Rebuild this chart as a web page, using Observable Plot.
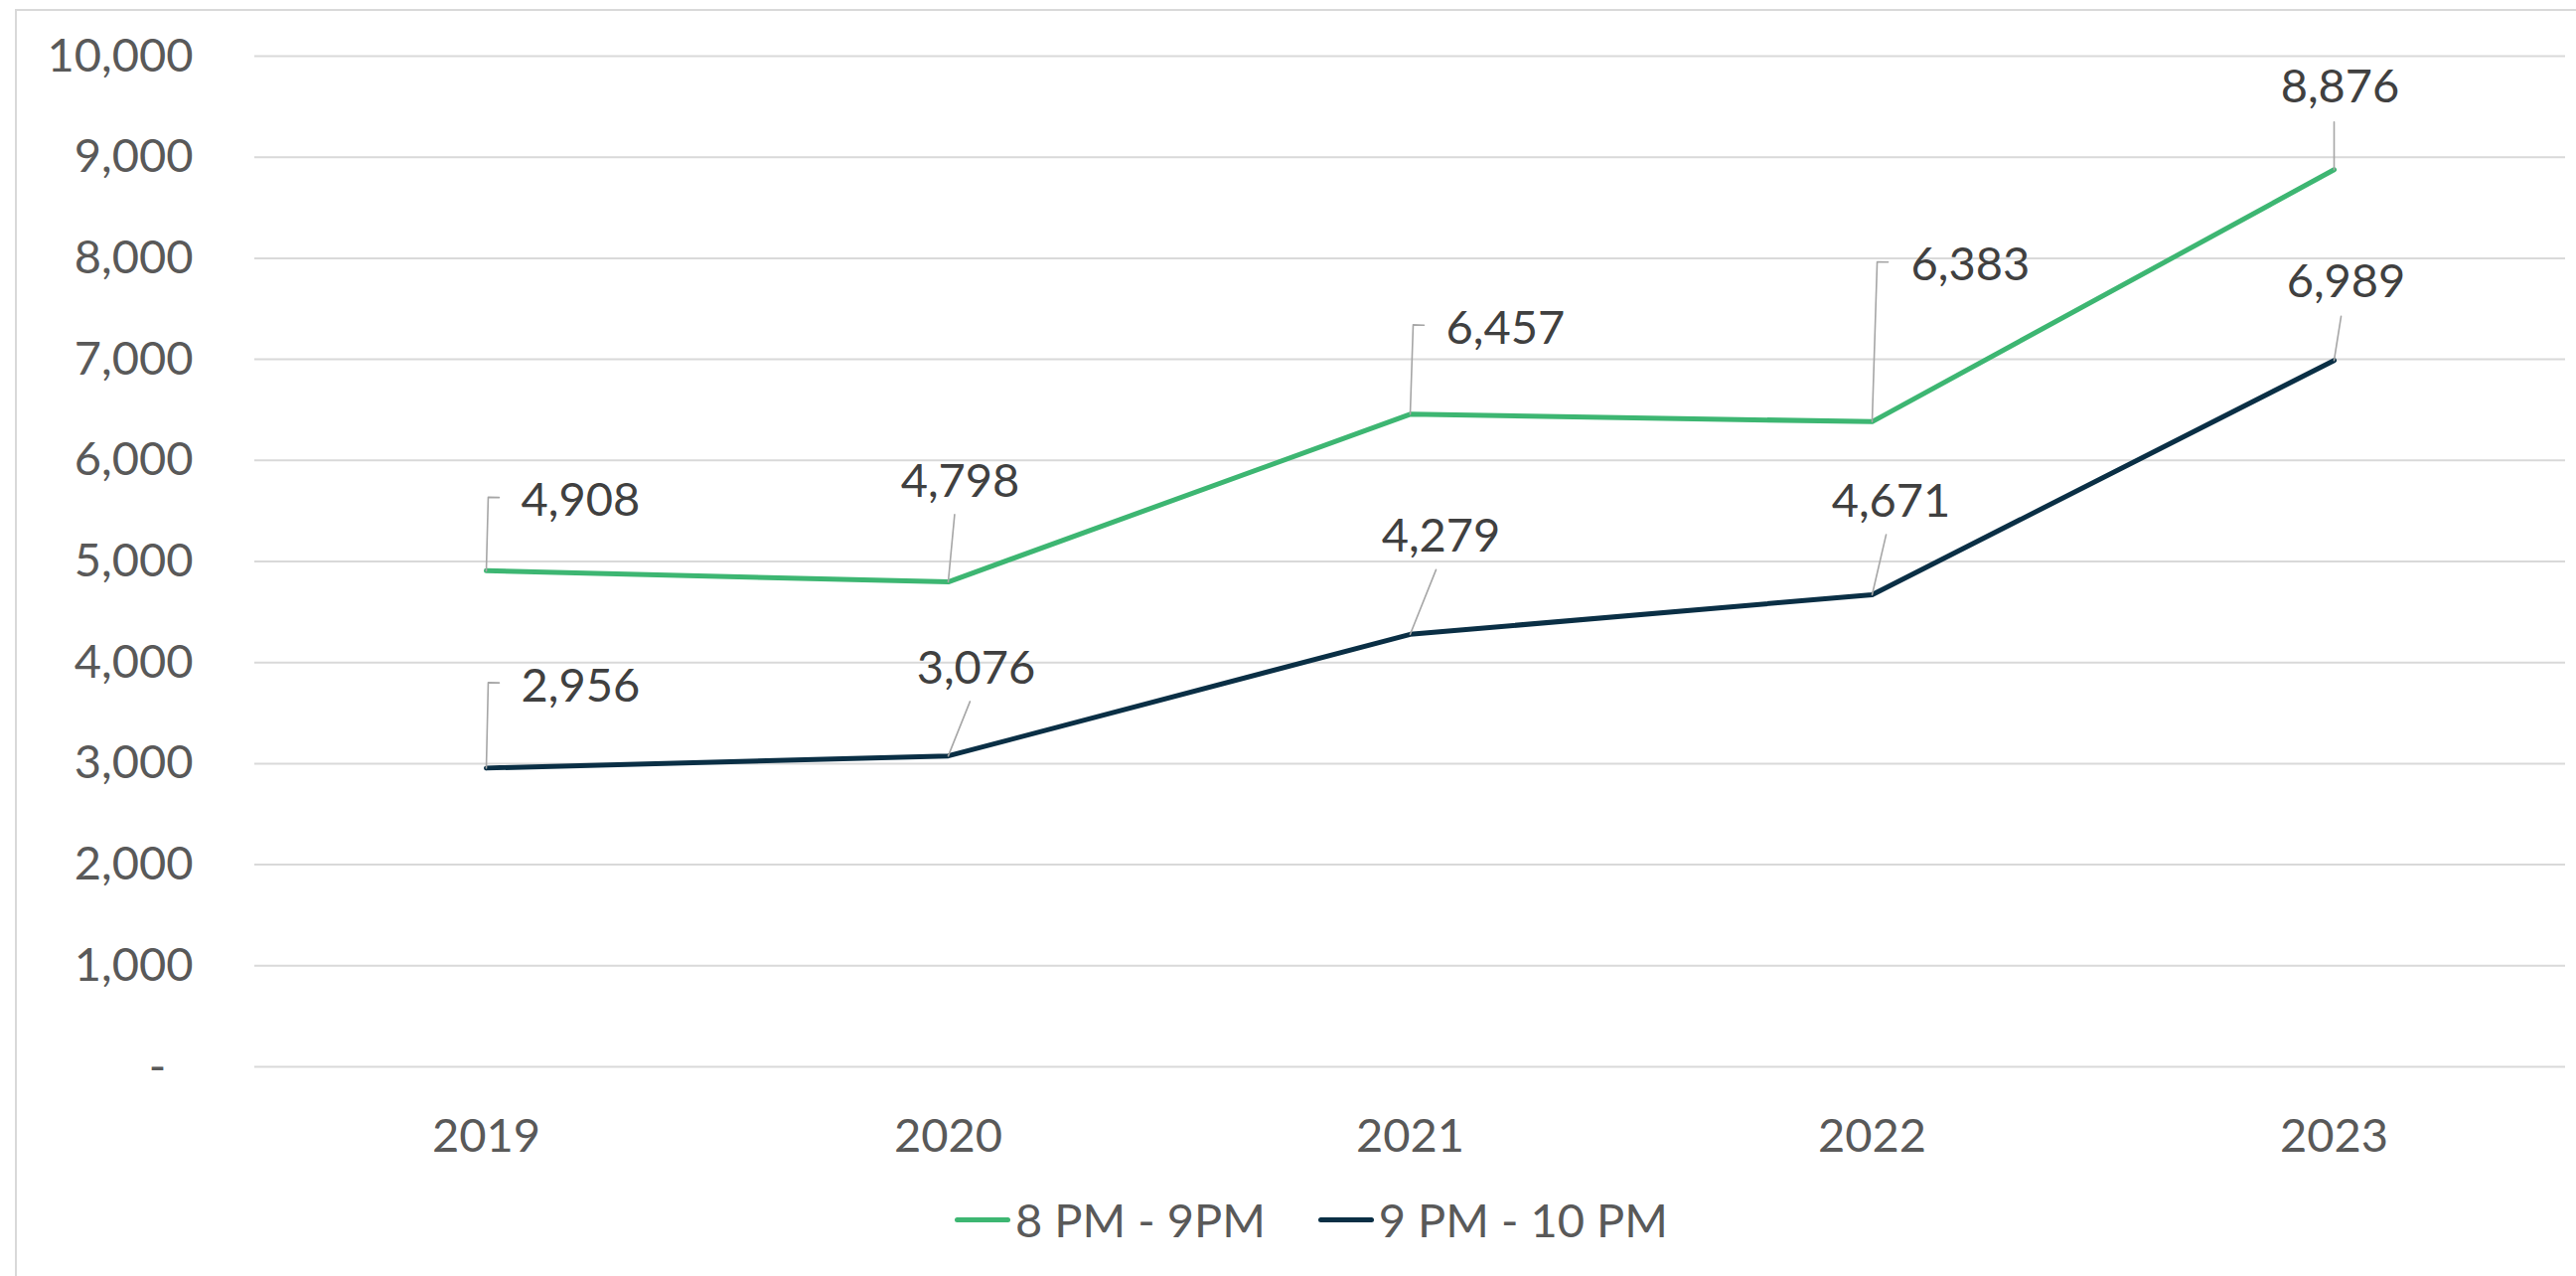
<!DOCTYPE html>
<html>
<head>
<meta charset="utf-8">
<script src="https://cdn.jsdelivr.net/npm/d3@7"></script>
<script src="https://cdn.jsdelivr.net/npm/@observablehq/plot@0.6"></script>
<style>
  html, body { margin: 0; padding: 0; background: #ffffff; }
  body { width: 2593px; height: 1284px; position: relative; overflow: hidden; font-family: Lato, sans-serif; }
  #frame { position: absolute; left: 15px; top: 9px; width: 2700px; height: 1400px;
           border-left: 2px solid #D9D9D9; border-top: 2px solid #D9D9D9; box-sizing: border-box; }
  #chart { position: absolute; left: 0; top: 0; }
  #legend { position: absolute; left: 961px; top: 1200px; display: flex; align-items: center;
            gap: 53px; font-size: 47px; line-height: 55px; color: #595959; white-space: nowrap; }
  .item { display: flex; align-items: center; }
  .swatch { width: 56px; height: 5px; border-radius: 3px; margin-right: 5px; }
</style>
</head>
<body>
<div id="frame"></div>
<div id="chart"></div>
<div id="legend"></div>
<script>
// ---- data ----
const years = ["2019", "2020", "2021", "2022", "2023"];
const seriesNames = ["8 PM - 9PM", "9 PM - 10 PM"];
const values8to9 = [4908, 4798, 6457, 6383, 8876];
const values9to10 = [2956, 3076, 4279, 4671, 6989];
const yTicks = [0, 1000, 2000, 3000, 4000, 5000, 6000, 7000, 8000, 9000, 10000];
const seriesColors = ["#3DB672", "#0A2F45"];

// ---- label placement (pixel offsets from each point, like Excel's dragged labels) ----
const labelLayout8to9 = [
  {dx: 35, dy: -70, anchor: "start", len: 74, rot: 1.5, elbow: true},
  {dx: 12, dy: -101, anchor: "middle", len: 68, rot: 5.4, elbow: false},
  {dx: 36, dy: -86, anchor: "start", len: 90, rot: 1.9, elbow: true},
  {dx: 39, dy: -157, anchor: "start", len: 161, rot: 1.8, elbow: true},
  {dx: 6, dy: -83, anchor: "middle", len: 48, rot: 0, elbow: false}
];
const labelLayout9to10 = [
  {dx: 35, dy: -82, anchor: "start", len: 86, rot: 1.3, elbow: true},
  {dx: 28, dy: -88, anchor: "middle", len: 59, rot: 21.8, elbow: false},
  {dx: 31, dy: -98, anchor: "middle", len: 70, rot: 21.8, elbow: false},
  {dx: 19, dy: -94, anchor: "middle", len: 62, rot: 13.1, elbow: false},
  {dx: 12, dy: -79, anchor: "middle", len: 45, rot: 9, elbow: false}
];

const rows = [];
years.forEach((yr, i) => {
  rows.push({year: yr, series: seriesNames[0], value: values8to9[i], ...labelLayout8to9[i]});
});
years.forEach((yr, i) => {
  rows.push({year: yr, series: seriesNames[1], value: values9to10[i], ...labelLayout9to10[i]});
});

const elbowShape = {draw(ctx, l) { ctx.moveTo(0, 0); ctx.lineTo(0, -l); ctx.lineTo(11, -l); }};
const straightShape = {draw(ctx, l) { ctx.moveTo(0, 0); ctx.lineTo(0, -l); }};
const fmt = d3.format(",");

const leaderMarks = rows.map(d => Plot.vector([d], {
  x: "year", y: "value", length: d.len, rotate: d.rot, anchor: "start",
  shape: d.elbow ? elbowShape : straightShape,
  stroke: "#A6A6A6", strokeWidth: 1.6, fill: "none"
}));
const labelMarks = rows.map(d => Plot.text([d], {
  x: "year", y: "value", text: r => fmt(r.value), dx: d.dx, dy: d.dy,
  textAnchor: d.anchor, fontSize: 47, fill: "#404040"
}));

const chart = Plot.plot({
  width: 2593,
  height: 1190,
  marginLeft: 256,
  marginRight: 11,
  marginTop: 56,
  marginBottom: 117,
  style: {fontFamily: "Lato, sans-serif", fontSize: "47px", color: "#595959", background: "transparent", overflow: "visible"},
  x: {type: "point", domain: years, padding: 0.5},
  y: {domain: [0, 10000], nice: false},
  color: {domain: seriesNames, range: seriesColors},
  marks: [
    Plot.gridY(yTicks, {stroke: "#D9D9D9", strokeOpacity: 1, strokeWidth: 2}),
    Plot.axisY(yTicks, {tickSize: 0, tickPadding: 62, fontSize: 47, label: null,
      tickFormat: d => d === 0 ? "-\u2007" : fmt(d)}),
    Plot.axisX({tickSize: 0, tickPadding: 52, fontSize: 47, label: null}),
    Plot.line(rows, {x: "year", y: "value", z: "series", stroke: "series",
      strokeWidth: 5, strokeLinecap: "round", strokeLinejoin: "round"}),
    ...leaderMarks,
    ...labelMarks
  ]
});
document.getElementById("chart").appendChild(chart);

const legend = document.getElementById("legend");
seriesNames.forEach((name, i) => {
  const item = document.createElement("div");
  item.className = "item";
  const sw = document.createElement("span");
  sw.className = "swatch";
  sw.style.background = seriesColors[i];
  const tx = document.createElement("span");
  tx.textContent = name;
  item.appendChild(sw);
  item.appendChild(tx);
  legend.appendChild(item);
});
</script>
</body>
</html>
